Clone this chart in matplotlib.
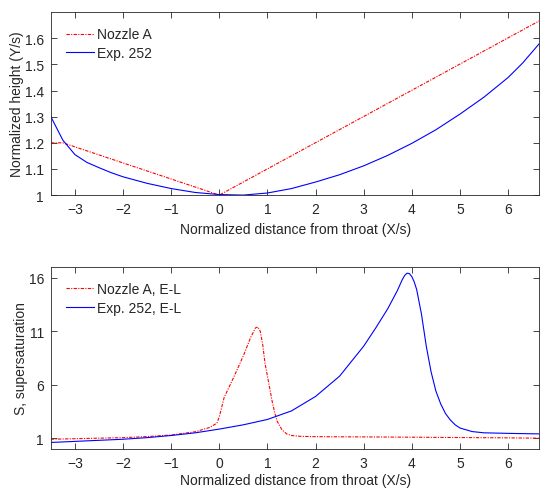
import numpy as np
import matplotlib.pyplot as plt
plt.switch_backend('agg')

plt.rcParams['font.family'] = ['Liberation Sans', 'DejaVu Sans']
plt.rcParams['font.size'] = 10

# ---- top panel: nozzle geometry
xa_top = [-3.5, -3.25, 0.0, 6.65]
ya_top = [1.2, 1.2, 1.0, 1.667]

x252_top = [-3.5, -3.25, -3.0, -2.75, -2.5, -2.25, -2.0, -1.5, -1.0, -0.5, 0.0, 0.5,
            1.0, 1.5, 2.0, 2.5, 3.0, 3.5, 4.0, 4.5, 5.0, 5.5, 6.0, 6.3, 6.65]
y252_top = [1.30, 1.21, 1.155, 1.125, 1.105, 1.086, 1.07, 1.045, 1.025, 1.01, 1.002, 1.0,
            1.008, 1.025, 1.05, 1.078, 1.112, 1.152, 1.198, 1.25, 1.31, 1.375, 1.45, 1.505, 1.58]

# ---- bottom panel: supersaturation
xa_bot = [-3.5, -3.0, -2.5, -2.0, -1.5, -1.0, -0.5, -0.2, -0.05, 0.0, 0.1, 0.3, 0.5, 0.65,
          0.75, 0.8, 0.85, 0.9, 0.95, 1.0, 1.05, 1.1, 1.15, 1.2, 1.3, 1.4, 1.5, 1.7,
          2.0, 3.0, 4.0, 5.0, 6.0, 6.65]
ya_bot = [0.9, 0.95, 1.0, 1.05, 1.15, 1.3, 1.6, 2.0, 2.4, 3.0, 4.8, 6.7, 8.7, 10.4,
          11.3, 11.4, 11.0, 9.8, 8.0, 6.8, 5.6, 4.4, 3.4, 2.6, 1.8, 1.4, 1.25, 1.17,
          1.14, 1.12, 1.09, 1.06, 1.03, 1.0]

x252_bot = [-3.5, -3.0, -2.5, -2.0, -1.5, -1.0, -0.5, 0.0, 0.5, 1.0, 1.5, 2.0, 2.5, 3.0,
            3.25, 3.5, 3.7, 3.8, 3.85, 3.9, 3.95, 4.0, 4.05, 4.1, 4.2, 4.3, 4.4, 4.5, 4.6,
            4.7, 4.8, 4.9, 5.0, 5.25, 5.5, 6.0, 6.65]
y252_bot = [0.6, 0.7, 0.8, 0.9, 1.05, 1.25, 1.5, 1.85, 2.25, 2.75, 3.55, 4.9, 6.8, 9.6,
            11.3, 13.1, 14.8, 15.8, 16.2, 16.42, 16.38, 16.1, 15.6, 14.9, 12.6, 9.6, 7.2,
            5.4, 4.2, 3.3, 2.7, 2.25, 1.95, 1.62, 1.5, 1.45, 1.4]

xticks = [-3, -2, -1, 0, 1, 2, 3, 4, 5, 6]
xlabel = 'Normalized distance from throat (X/s)'
gray = (0.15, 0.15, 0.15)
dashdot = (0, (3, 1.2, 1, 1.2))

fig = plt.figure(figsize=(5.41, 4.89), dpi=100)
ax1 = fig.add_axes([0.094, 0.599, 0.903, 0.374])
ax2 = fig.add_axes([0.094, 0.080, 0.903, 0.372])

ax1.plot(xa_top, ya_top, color='red', ls=dashdot, lw=0.8, label='Nozzle A')
ax1.plot(x252_top, y252_top, color='blue', ls='-', lw=0.8, label='Exp. 252')
ax1.set_xlim(-3.5, 6.65)
ax1.set_ylim(1.0, 1.7)
ax1.set_yticks([1, 1.1, 1.2, 1.3, 1.4, 1.5, 1.6])
ax1.set_yticklabels(['1', '1.1', '1.2', '1.3', '1.4', '1.5', '1.6'])
ax1.set_ylabel('Normalized height (Y/s)', labelpad=0.5)
ax1.set_xlabel(xlabel, color=gray, labelpad=4)

ax2.plot(xa_bot, ya_bot, color='red', ls=dashdot, lw=0.8, label='Nozzle A, E-L')
ax2.plot(x252_bot, y252_bot, color='blue', ls='-', lw=0.8, label='Exp. 252, E-L')
ax2.set_xlim(-3.5, 6.65)
ax2.set_ylim(0, 17)
ax2.set_yticks([1, 6, 11, 16])
ax2.set_ylabel('S, supersaturation', labelpad=0.5)
ax2.set_xlabel(xlabel, color=gray, labelpad=2)

for ax in (ax1, ax2):
    ax.set_xticks(xticks)
    ax.yaxis.label.set_color(gray)
    ax.tick_params(direction='in', top=True, right=True, length=4, width=0.6,
                   colors=gray, labelsize=10, pad=5)
    for s in ax.spines.values():
        s.set_color(gray)
        s.set_linewidth(0.6)
    leg = ax.legend(loc='upper left', frameon=False, handlelength=2.0,
                    handletextpad=0.2, borderaxespad=0.7, labelspacing=0.35, fontsize=10)
    for t in leg.get_texts():
        t.set_color(gray)

fig.savefig('out.png', dpi=100)
